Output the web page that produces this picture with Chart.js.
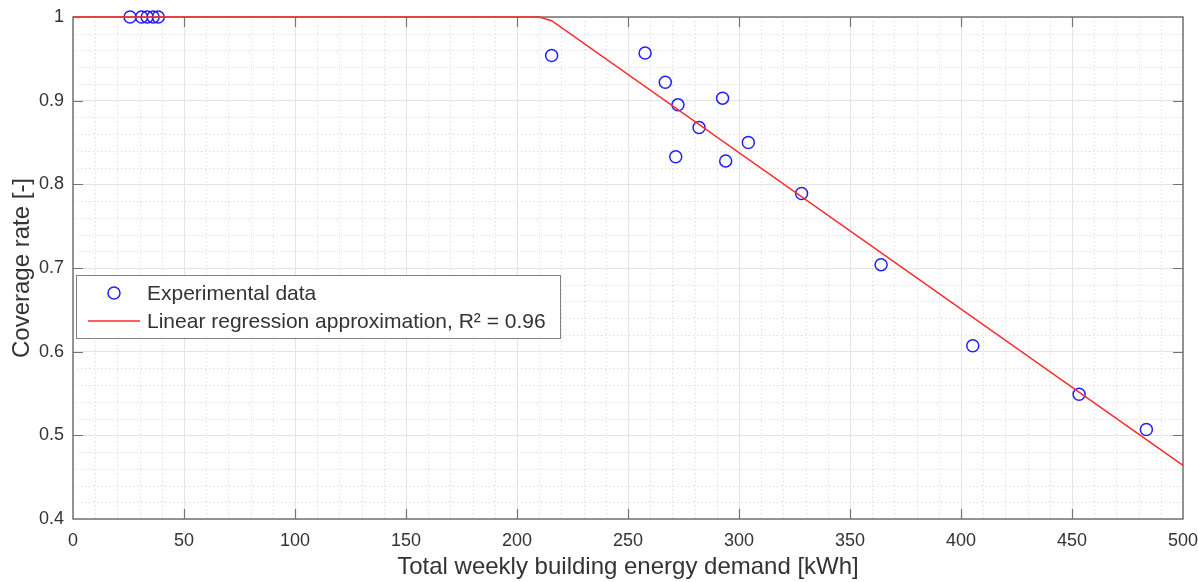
<!DOCTYPE html>
<html>
<head>
<meta charset="utf-8">
<script src="https://cdn.jsdelivr.net/npm/chart.js@4.4.0/dist/chart.umd.min.js"></script>
<style>
    html, body { margin: 0; padding: 0; background: #fff; }
</style>
</head>
<body>
<canvas id="coverageChart" width="1198" height="582"></canvas>
<script>
// Values
const demand = [25.7, 30.9, 33.4, 36.1, 38.4, 215.6, 257.7, 266.8, 271.5, 272.5, 282.0, 292.6, 294.0, 304.2, 328.2, 364.0, 405.3, 453.2, 483.5];
const coverage = [1, 1, 1, 1, 1, 0.954, 0.957, 0.922, 0.833, 0.895, 0.868, 0.903, 0.828, 0.850, 0.789, 0.704, 0.607, 0.549, 0.507];

// regression line (capped at 1)
const fitDemand = [0, 210, 215.6, 500];
const fitCoverage = [1, 1, 0.9956, 0.464];

const xRange = [0, 500];
const yRange = [0.4, 1];
const xMajor = 50, xMinor = 10;
const yMajor = 0.1, yMinor = 0.02;

const seriesLabels = ['Experimental data', 'Linear regression approximation, R\u00b2 = 0.96'];

const FONT = '"Liberation Sans", Arial, Helvetica, sans-serif';
const TEXT = '#333333';
const AXIS = '#737373';

// Grille mineure pointillée + cadre + ticks vers l'intérieur
const frameAndGrid = {
    id: 'frameAndGrid',
    beforeDatasetsDraw(chart) {
        const { ctx, chartArea: a, scales: { x, y } } = chart;
        ctx.save();
        ctx.lineWidth = 1;
        ctx.strokeStyle = '#d6d6d6';
        ctx.setLineDash([1, 3]);
        const nx = Math.round((xRange[1] - xRange[0]) / xMinor);
        for (let k = 1; k < nx; k++) {
            if (k % (xMajor / xMinor) === 0) continue;
            const px = Math.round(x.getPixelForValue(xRange[0] + k * xMinor)) + 0.5;
            ctx.beginPath(); ctx.moveTo(px, a.top); ctx.lineTo(px, a.bottom); ctx.stroke();
        }
        const ny = Math.round((yRange[1] - yRange[0]) / yMinor);
        for (let k = 1; k < ny; k++) {
            if (k % 5 === 0) continue;
            const py = Math.round(y.getPixelForValue(yRange[0] + k * yMinor)) + 0.5;
            ctx.beginPath(); ctx.moveTo(a.left, py); ctx.lineTo(a.right, py); ctx.stroke();
        }
        ctx.setLineDash([]);

        // cadre
        ctx.strokeStyle = AXIS;
        ctx.lineWidth = 1.5;
        ctx.strokeRect(a.left, a.top, a.right - a.left, a.bottom - a.top);

        // ticks
        const tl = 10;
        ctx.beginPath();
        for (let v = xRange[0] + xMajor; v < xRange[1]; v += xMajor) {
            const px = Math.round(x.getPixelForValue(v)) + 0.5;
            ctx.moveTo(px, a.bottom); ctx.lineTo(px, a.bottom - tl);
            ctx.moveTo(px, a.top); ctx.lineTo(px, a.top + tl);
        }
        for (let k = 1; k < 6; k++) {
            const py = Math.round(y.getPixelForValue(yRange[0] + k * yMajor)) + 0.5;
            ctx.moveTo(a.left, py); ctx.lineTo(a.left + tl, py);
            ctx.moveTo(a.right, py); ctx.lineTo(a.right - tl, py);
        }
        ctx.lineWidth = 1.2;
        ctx.stroke();
        ctx.restore();
    }
};

// Légende dans la zone du graphique
const boxLegend = {
    id: 'boxLegend',
    afterDraw(chart) {
        const ctx = chart.ctx;
        const ds = chart.data.datasets;
        const left = 76, top = 275, w = 484, h = 63;
        ctx.save();
        ctx.fillStyle = '#ffffff';
        ctx.fillRect(left, top, w, h);
        ctx.strokeStyle = '#808080';
        ctx.lineWidth = 1;
        ctx.strokeRect(left + 0.5, top + 0.5, w, h);

        ctx.font = '21px ' + FONT;
        ctx.fillStyle = TEXT;
        ctx.textBaseline = 'middle';

        // row 1: marker
        ctx.beginPath();
        ctx.arc(114, 293, ds[0].pointRadius, 0, Math.PI * 2);
        ctx.strokeStyle = ds[0].borderColor;
        ctx.lineWidth = ds[0].borderWidth;
        ctx.stroke();
        ctx.fillText(ds[0].label, 147, 294);

        // row 2: line
        ctx.beginPath();
        ctx.moveTo(88, 321); ctx.lineTo(140, 321);
        ctx.strokeStyle = ds[1].borderColor;
        ctx.lineWidth = ds[1].borderWidth;
        ctx.stroke();
        ctx.fillStyle = TEXT;
        ctx.fillText(ds[1].label, 147, 322);
        ctx.restore();
    }
};

const ctx = document.getElementById('coverageChart').getContext('2d');

const coverageChart = new Chart(ctx, {
    type: 'scatter',
    data: {
        datasets: [
            {
                label: seriesLabels[0],
                data: demand.map((d, i) => ({ x: d, y: coverage[i] })),
                pointStyle: 'circle',
                pointRadius: 6,
                pointHoverRadius: 6,
                borderColor: '#2020ff',
                backgroundColor: 'rgba(0,0,0,0)',
                borderWidth: 1.5,
                showLine: false,
                clip: false,
                order: 2
            },
            {
                label: seriesLabels[1],
                data: fitDemand.map((d, i) => ({ x: d, y: fitCoverage[i] })),
                showLine: true,
                pointRadius: 0,
                borderColor: '#ff2a2a',
                backgroundColor: '#ff2a2a',
                borderWidth: 1.5,
                tension: 0,
                clip: false,
                order: 1
            }
        ]
    },
    options: {
        responsive: false,
        animation: false,
        devicePixelRatio: 1,
        layout: { padding: { top: 17, right: 15, left: 0, bottom: 0 } },
        plugins: {
            legend: { display: false },
            tooltip: { enabled: false }
        },
        scales: {
            x: {
                type: 'linear',
                min: xRange[0],
                max: xRange[1],
                ticks: {
                    stepSize: xMajor,
                    padding: 11,
                    color: TEXT,
                    font: { family: FONT, size: 18 }
                },
                grid: { color: '#e4e4e4', lineWidth: 1, drawTicks: false },
                border: { display: false },
                title: {
                    display: true,
                    text: 'Total weekly building energy demand [kWh]',
                    color: TEXT,
                    font: { family: FONT, size: 24 },
                    padding: { top: 0, bottom: 0 }
                },
                afterFit(scale) {
                    scale.height = 63;
                    scale.paddingLeft = 0;
                    scale.paddingRight = 0;
                }
            },
            y: {
                type: 'linear',
                min: yRange[0],
                max: yRange[1],
                ticks: {
                    stepSize: yMajor,
                    padding: 9,
                    color: TEXT,
                    font: { family: FONT, size: 18 },
                    callback: v => String(+v.toFixed(1))
                },
                grid: { color: '#e4e4e4', lineWidth: 1, drawTicks: false },
                border: { display: false },
                title: {
                    display: true,
                    text: 'Coverage rate [-]',
                    color: TEXT,
                    font: { family: FONT, size: 24 },
                    padding: { top: 8, bottom: 0 }
                },
                afterFit(scale) {
                    scale.width = 73;
                    scale.paddingTop = 0;
                    scale.paddingBottom = 0;
                }
            }
        }
    },
    plugins: [frameAndGrid, boxLegend]
});
</script>
</body>
</html>
